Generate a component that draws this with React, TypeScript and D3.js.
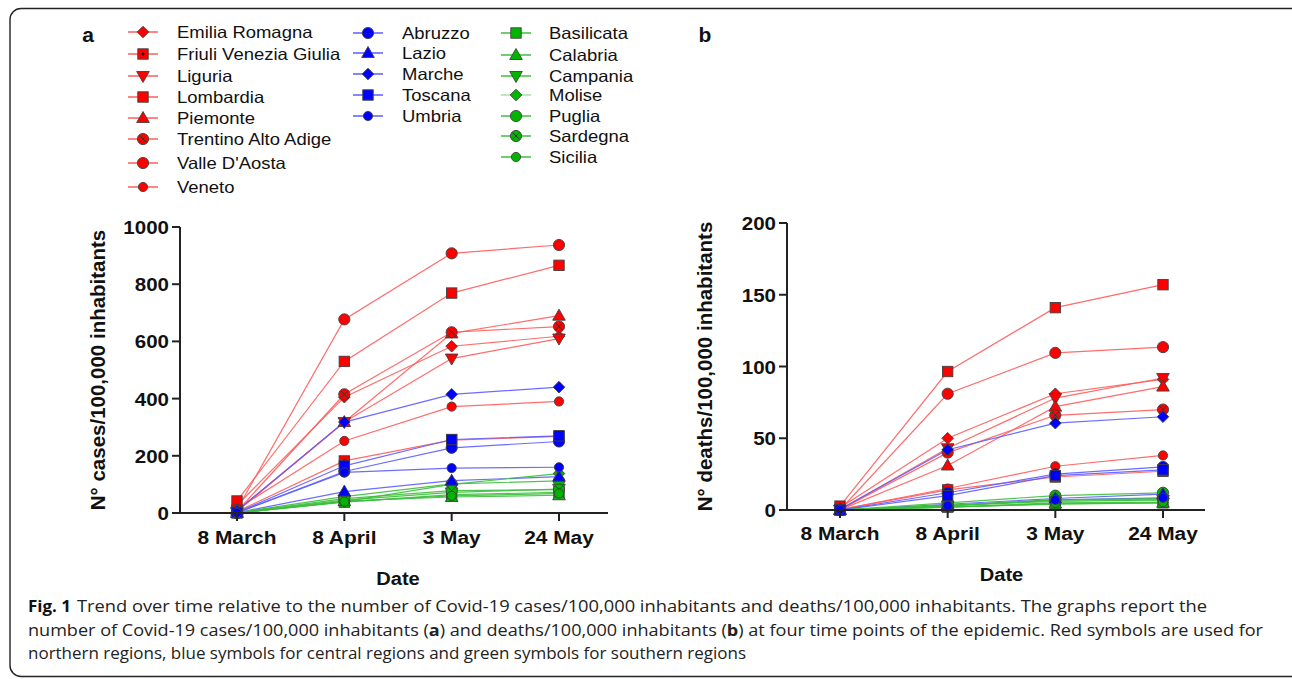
import React from 'react';
import * as d3 from 'd3';

const dates = ['8 March', '8 April', '3 May', '24 May'];

const regionsNorth = ['Emilia Romagna', 'Friuli Venezia Giulia', 'Liguria', 'Lombardia', 'Piemonte', 'Trentino Alto Adige', "Valle D'Aosta", 'Veneto'];
const shapesNorth = ['diamond', 'squaredot', 'tridown', 'square', 'triup', 'circlex', 'circle', 'circlesm'];
const regionsCentral = ['Abruzzo', 'Lazio', 'Marche', 'Toscana', 'Umbria'];
const shapesCentral = ['circle', 'triup', 'diamond', 'square', 'circlesm'];
const regionsSouth = ['Basilicata', 'Calabria', 'Campania', 'Molise', 'Puglia', 'Sardegna', 'Sicilia'];
const shapesSouth = ['square', 'triup', 'tridown', 'diamond', 'circle', 'circlex', 'circlesm'];

const casesNorth = [
  [27, 405, 583, 618],
  [5, 182, 255, 268],
  [5, 318, 540, 610],
  [42, 530, 769, 866],
  [8, 318, 628, 690],
  [6, 415, 632, 652],
  [12, 677, 908, 937],
  [14, 252, 372, 390],
];
const casesCentral = [
  [1, 145, 228, 250],
  [1, 75, 113, 127],
  [8, 318, 415, 440],
  [2, 165, 257, 270],
  [1, 142, 157, 160],
];
const casesSouth = [
  [0, 38, 64, 72],
  [0, 42, 56, 62],
  [1, 45, 72, 84],
  [0, 40, 100, 138],
  [1, 57, 102, 112],
  [0, 50, 78, 82],
  [0, 40, 60, 68],
];

const deathsNorth = [
  [1.5, 50, 81, 91],
  [0.2, 14, 23, 27],
  [0.3, 43, 78, 92],
  [2.7, 96.5, 141, 157],
  [0.1, 31, 72, 86],
  [0.1, 40, 66, 70],
  [0, 81, 109.5, 113.5],
  [0.3, 15, 30.5, 38],
];
const deathsCentral = [
  [0, 12, 25, 30],
  [0, 4, 8, 11],
  [0.5, 42, 60.5, 65],
  [0, 10, 24, 28],
  [0, 3, 7, 8.5],
];
const deathsSouth = [
  [0, 2, 4, 5],
  [0, 2, 4.5, 5],
  [0, 3, 6, 7],
  [0, 3, 7, 7],
  [0, 5, 10, 12],
  [0, 3, 7, 8],
  [0, 2, 5, 5.5],
];

const casesTicks = [0, 200, 400, 600, 800, 1000];
const deathsTicks = [0, 50, 100, 150, 200];

const RED = '#ff0000';
const BLUE = '#0000ff';
const GREEN = '#00b400';
const RED_LINE = '#ff5c5c';
const BLUE_LINE = '#5c5cff';
const GREEN_LINE = '#3cbf3c';
const MARK_STROKE = '#404040';

function Marker({ shape, x, y, fill }: { shape: string; x: number; y: number; fill: string }) {
  const sw = 0.9;
  switch (shape) {
    case 'circle':
      return <circle cx={x} cy={y} r={5.6} fill={fill} stroke={MARK_STROKE} strokeWidth={sw} />;
    case 'circlesm':
      return <circle cx={x} cy={y} r={4.6} fill={fill} stroke={MARK_STROKE} strokeWidth={sw} />;
    case 'circlex':
      return (
        <g>
          <circle cx={x} cy={y} r={5.6} fill={fill} stroke={MARK_STROKE} strokeWidth={sw} />
          <path d={`M${x - 3.3},${y - 3.3}L${x + 3.3},${y + 3.3}M${x - 3.3},${y + 3.3}L${x + 3.3},${y - 3.3}`} stroke="#333" strokeWidth={1} />
        </g>
      );
    case 'square':
      return <rect x={x - 5.2} y={y - 5.2} width={10.4} height={10.4} fill={fill} stroke={MARK_STROKE} strokeWidth={sw} />;
    case 'squaredot':
      return (
        <g>
          <rect x={x - 5.2} y={y - 5.2} width={10.4} height={10.4} fill={fill} stroke={MARK_STROKE} strokeWidth={sw} />
          <circle cx={x} cy={y} r={1.4} fill="#111" />
        </g>
      );
    case 'triup':
      return <path d={`M${x},${y - 6.5}L${x + 6.3},${y + 4.5}L${x - 6.3},${y + 4.5}Z`} fill={fill} stroke={MARK_STROKE} strokeWidth={sw} />;
    case 'tridown':
      return <path d={`M${x},${y + 6.5}L${x + 6.3},${y - 4.5}L${x - 6.3},${y - 4.5}Z`} fill={fill} stroke={MARK_STROKE} strokeWidth={sw} />;
    case 'diamond':
      return <path d={`M${x},${y - 5.8}L${x + 5.8},${y}L${x},${y + 5.8}L${x - 5.8},${y}Z`} fill={fill} stroke={MARK_STROKE} strokeWidth={sw} />;
    default:
      return null;
  }
}

type Group = { names: string[]; shapes: string[]; data: number[][]; fill: string; line: string };

function Panel({
  groups, domainMax, ticks, xRange, yRange, axisX, axisRight, yTitle, dateY, tickLabelY,
}: {
  groups: Group[]; domainMax: number; ticks: number[]; xRange: [number, number]; yRange: [number, number];
  axisX: number; axisRight: number; yTitle: string; dateY: number; tickLabelY: number;
}) {
  const x = d3.scalePoint<string>().domain(dates).range(xRange);
  const y = d3.scaleLinear().domain([0, domainMax]).range(yRange);
  const line = d3.line<number>().x((_, i) => x(dates[i]) as number).y((d) => y(d));
  const y0 = y(0);
  const yTop = y(domainMax);
  const titleX = axisX - 82;
  const midY = (y0 + yTop) / 2;
  const xCenter = (xRange[0] + xRange[1]) / 2;
  const lineOrder = [groups[0], groups[1], groups[2]];
  const markOrder = [groups[0], groups[2], groups[1]];
  return (
    <g>
      {lineOrder.map((g, gi) =>
        g.data.map((d, i) => (
          <path key={`l${gi}-${i}`} d={line(d) as string} fill="none" stroke={g.line} strokeWidth={1.2} strokeOpacity={0.9} />
        ))
      )}
      {markOrder.map((g, gi) =>
        g.data.map((d, i) =>
          d.map((v, j) => (
            <Marker key={`m${gi}-${i}-${j}`} shape={g.shapes[i]} x={x(dates[j]) as number} y={y(v)} fill={g.fill} />
          ))
        )
      )}
      <line x1={axisX} x2={axisX} y1={yTop} y2={y0 + 1} stroke="#222" strokeWidth={2} />
      <line x1={axisX - 1} x2={axisRight} y1={y0} y2={y0} stroke="#222" strokeWidth={2} />
      {ticks.map((t) => (
        <g key={`yt${t}`}>
          <line x1={axisX - 8} x2={axisX} y1={y(t)} y2={y(t)} stroke="#222" strokeWidth={2} />
          <text
            transform={`translate(${axisX - 11},${y(t) + 7}) scale(1.08,1)`}
            textAnchor="end"
            fontFamily="Liberation Sans, Arial, sans-serif"
            fontWeight="bold"
            fontSize={19}
            fill="#111"
          >
            {t}
          </text>
        </g>
      ))}
      {dates.map((dt) => (
        <g key={`xt${dt}`}>
          <line x1={x(dt) as number} x2={x(dt) as number} y1={y0} y2={y0 + 8} stroke="#222" strokeWidth={2} />
          <text
            transform={`translate(${x(dt)},${tickLabelY}) scale(1.1,1)`}
            textAnchor="middle"
            fontFamily="Liberation Sans, Arial, sans-serif"
            fontWeight="bold"
            fontSize={19}
            fill="#111"
          >
            {dt}
          </text>
        </g>
      ))}
      <text
        transform={`translate(${xCenter},${dateY}) scale(1.06,1)`}
        textAnchor="middle"
        fontFamily="Liberation Sans, Arial, sans-serif"
        fontWeight="bold"
        fontSize={19}
        fill="#111"
      >
        Date
      </text>
      <text
        transform={`translate(${titleX + 7},${midY}) rotate(-90)`}
        textAnchor="middle"
        fontFamily="Liberation Sans, Arial, sans-serif"
        fontWeight="bold"
        fontSize={20.5}
        fill="#111"
      >
        {yTitle}
      </text>
    </g>
  );
}

function LegendColumn({ names, shapes, fill, line, xLine, xText, rowsY, lineColors }: {
  names: string[]; shapes: string[]; fill: string; line: string; xLine: number; xText: number; rowsY: number[]; lineColors?: string[];
}) {
  return (
    <g>
      {names.map((n, i) => (
        <g key={n}>
          <line x1={xLine} x2={xLine + 30} y1={rowsY[i]} y2={rowsY[i]} stroke={lineColors ? lineColors[i] : line} strokeWidth={1.5} />
          <Marker shape={shapes[i]} x={xLine + 15} y={rowsY[i]} fill={fill} />
          <text
            transform={`translate(${xText},${rowsY[i] + 6}) scale(1.12,1)`}
            fontFamily="Liberation Sans, Arial, sans-serif"
            fontSize={16.5}
            fill="#111"
          >
            {n}
          </text>
        </g>
      ))}
    </g>
  );
}

export default function App() {
  const groupsA: Group[] = [
    { names: regionsNorth, shapes: shapesNorth, data: casesNorth, fill: RED, line: RED_LINE },
    { names: regionsCentral, shapes: shapesCentral, data: casesCentral, fill: BLUE, line: BLUE_LINE },
    { names: regionsSouth, shapes: shapesSouth, data: casesSouth, fill: GREEN, line: GREEN_LINE },
  ];
  const groupsB: Group[] = [
    { names: regionsNorth, shapes: shapesNorth, data: deathsNorth, fill: RED, line: RED_LINE },
    { names: regionsCentral, shapes: shapesCentral, data: deathsCentral, fill: BLUE, line: BLUE_LINE },
    { names: regionsSouth, shapes: shapesSouth, data: deathsSouth, fill: GREEN, line: GREEN_LINE },
  ];
  const capFont = '"Open Sans", "Noto Sans", sans-serif';
  return (
    <svg width={1292} height={679} style={{ position: 'absolute', left: 0, top: 0, background: '#fff' }}>
      <rect x={10} y={8.5} width={1300} height={668} rx={11} fill="#fff" stroke="#222" strokeWidth={1.4} />

      <text x={88} y={42} textAnchor="middle" fontFamily="Liberation Sans, Arial, sans-serif" fontWeight="bold" fontSize={21} fill="#111">a</text>
      <text x={705} y={42} textAnchor="middle" fontFamily="Liberation Sans, Arial, sans-serif" fontWeight="bold" fontSize={21} fill="#111">b</text>

      <LegendColumn names={regionsNorth} shapes={shapesNorth} fill={RED} line={RED_LINE} xLine={128} xText={177}
        rowsY={[32, 54, 76, 97, 118, 139, 163, 187]} />
      <LegendColumn names={regionsCentral} shapes={shapesCentral} fill={BLUE} line={BLUE_LINE} xLine={353} xText={402}
        rowsY={[33, 53, 74, 95, 116]} />
      <LegendColumn names={regionsSouth} shapes={shapesSouth} fill={GREEN} line={GREEN_LINE} xLine={501} xText={549}
        rowsY={[33, 55, 76, 95, 116, 136, 157]}
        lineColors={[GREEN_LINE, GREEN_LINE, GREEN_LINE, '#a8e0a8', GREEN_LINE, GREEN_LINE, GREEN_LINE]} />

      <Panel groups={groupsA} domainMax={1000} ticks={casesTicks} xRange={[237, 559]} yRange={[513, 227]}
        axisX={180} axisRight={608} yTitle="N° cases/100,000 inhabitants" dateY={585} tickLabelY={544} />
      <Panel groups={groupsB} domainMax={200} ticks={deathsTicks} xRange={[840, 1163]} yRange={[510, 223]}
        axisX={787} axisRight={1205} yTitle="N° deaths/100,000 inhabitants" dateY={581} tickLabelY={540} />

      <text x={28} y={612} fontFamily={capFont} fontWeight="bold" fontSize={16.5} fill="#111" textLength={43} lengthAdjust="spacingAndGlyphs">Fig. 1</text>
      <text x={77} y={612} fontFamily={capFont} fontSize={16.5} fill="#222" textLength={1130} lengthAdjust="spacingAndGlyphs">
        Trend over time relative to the number of Covid-19 cases/100,000 inhabitants and deaths/100,000 inhabitants. The graphs report the
      </text>
      <text x={28} y={636} fontFamily={capFont} fontSize={16.5} fill="#222" textLength={1235} lengthAdjust="spacingAndGlyphs">
        number of Covid-19 cases/100,000 inhabitants (<tspan fontWeight="bold">a</tspan>) and deaths/100,000 inhabitants (<tspan fontWeight="bold">b</tspan>) at four time points of the epidemic. Red symbols are used for
      </text>
      <text x={28} y={659} fontFamily={capFont} fontSize={16.5} fill="#222" textLength={718} lengthAdjust="spacingAndGlyphs">
        northern regions, blue symbols for central regions and green symbols for southern regions
      </text>
    </svg>
  );
}
